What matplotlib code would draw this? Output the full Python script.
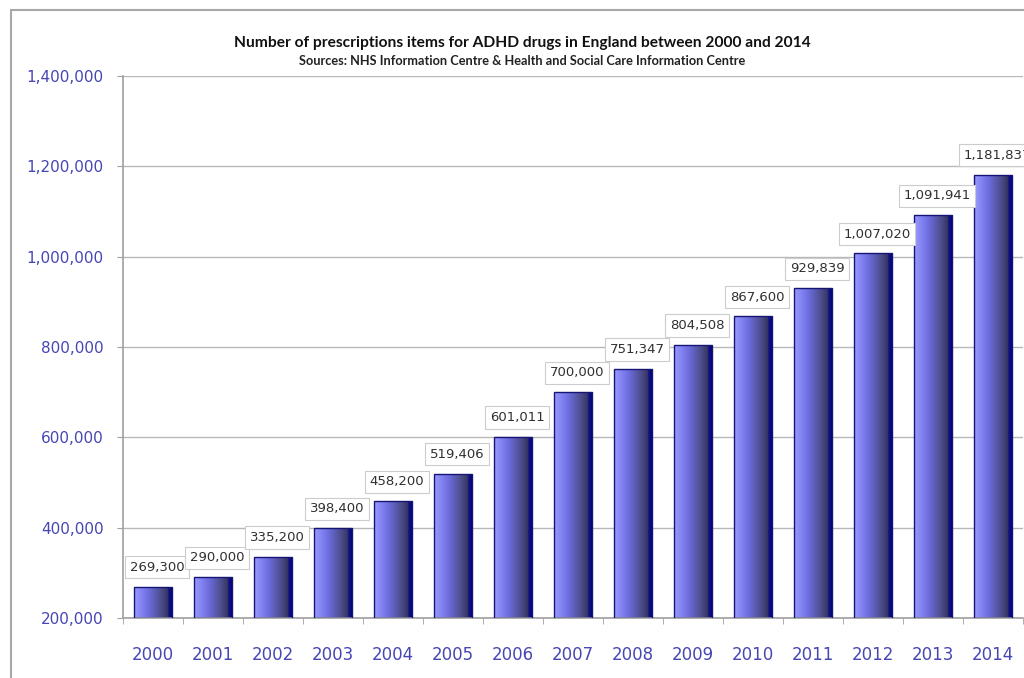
import matplotlib
matplotlib.use("Agg")
import matplotlib.pyplot as plt
import numpy as np
from matplotlib.colors import LinearSegmentedColormap
from matplotlib.patches import Rectangle
from matplotlib.ticker import FuncFormatter, MultipleLocator

years = ["2000", "2001", "2002", "2003", "2004", "2005", "2006", "2007",
         "2008", "2009", "2010", "2011", "2012", "2013", "2014"]
values = [269300, 290000, 335200, 398400, 458200, 519406, 601011, 700000,
          751347, 804508, 867600, 929839, 1007020, 1091941, 1181837]
title = "Number of prescriptions items for ADHD drugs in England between 2000 and 2014"
subtitle = "Sources: NHS Information Centre & Health and Social Care Information Centre"

W, H = 1024, 678
fig = plt.figure(figsize=(W / 100, H / 100), dpi=100)
fig.patch.set_facecolor("white")

# outer chart frame
fig.add_artist(Rectangle((11 / W, -0.05), 1.2, 1 - 10 / H + 0.05,
                         transform=fig.transFigure, fill=False,
                         edgecolor="#a8a8a8", linewidth=1.5))

ax = fig.add_axes([123 / W, 1 - 618 / H, 900 / W, (618 - 76) / H])
x = np.arange(len(years))
bars = ax.bar(x, [v - 200000 for v in values], bottom=200000, width=0.64,
              facecolor="none", edgecolor="#151575", linewidth=1.0, zorder=3)

cmap = LinearSegmentedColormap.from_list(
    "bar3d", [(0.0, "#9a9aff"), (0.35, "#7070e4"), (0.72, "#4a4a88"),
              (0.86, "#383860"), (0.89, "#12128e"), (1.0, "#00006a")])
grad = np.linspace(0, 1, 256).reshape(1, -1)
for b in bars:
    x0, y0 = b.get_x(), b.get_y()
    im = ax.imshow(grad, cmap=cmap, aspect="auto", zorder=2,
                   extent=(x0, x0 + b.get_width(), y0, y0 + b.get_height()),
                   interpolation="bilinear")
    im.set_clip_path(b)

for xi, v in zip(x, values):
    ax.annotate(f"{v:,}", (xi, v), xytext=(3, 14), textcoords="offset points",
                ha="center", va="center", fontsize=9.5, color="#303030",
                family="DejaVu Sans", zorder=4, annotation_clip=False,
                bbox=dict(boxstyle="square,pad=0.35", facecolor="white",
                          edgecolor="#cccccc", linewidth=0.8))

ax.set_xlim(-0.5, len(years) - 0.5)
ax.set_ylim(200000, 1400000)
ax.yaxis.set_major_locator(MultipleLocator(200000))
ax.yaxis.set_major_formatter(FuncFormatter(lambda v, p: f"{int(v):,}"))
ax.set_xticks(x)
ax.set_xticklabels(years)
ax.set_xticks(np.arange(-0.5, len(years), 1), minor=True)
ax.tick_params(axis="x", which="major", length=0, pad=20, labelsize=12,
               labelcolor="#4646b4")
ax.tick_params(axis="x", which="minor", length=4, color="#a0a0a0", direction="out")
ax.tick_params(axis="y", length=4, color="#a0a0a0", pad=10, labelsize=11,
               labelcolor="#4646b4")
ax.grid(axis="y", color="#b8b8b8", linewidth=1.0, zorder=0)
ax.set_axisbelow(True)
for s in ["top", "right"]:
    ax.spines[s].set_visible(False)
for s in ["left", "bottom"]:
    ax.spines[s].set_color("#a0a0a0")
    ax.spines[s].set_linewidth(1.2)

fig.text(522 / W, 1 - 43 / H, title, ha="center", va="center",
         fontsize=11.2, fontweight="bold", family="Lato", color="#111111")
fig.text(522 / W, 1 - 61 / H, subtitle, ha="center", va="center",
         fontsize=9.2, fontweight="bold", family="Lato", color="#222222")

fig.savefig("out.png", dpi=100, facecolor="white")
